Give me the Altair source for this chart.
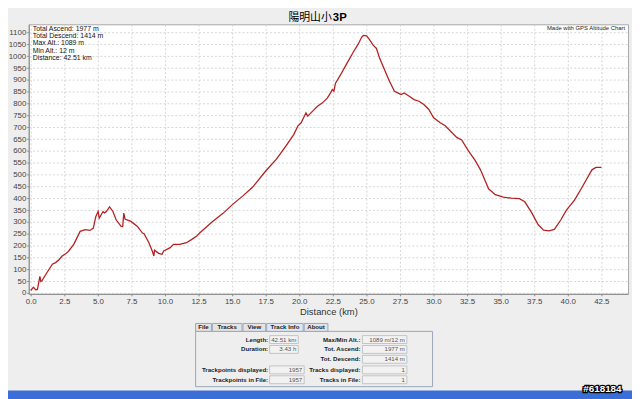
import altair as alt
import pandas as pd

# ---- data ----
dist_km = [0.0, 0.2, 0.39, 0.5, 0.68, 0.75, 0.83, 1.2, 1.61, 1.85, 2.1, 2.34, 2.6, 2.83, 3.2, 3.68,
           4.05, 4.41, 4.66, 4.85, 5.02, 5.1, 5.39, 5.5, 5.63, 5.87, 6.12, 6.36, 6.73, 6.85, 6.93,
           7.02, 7.46, 7.95, 8.32, 8.44, 8.8, 9.05, 9.17, 9.22, 9.53, 9.78, 9.9, 10.39, 10.63, 11.1,
           11.6, 11.97, 12.34, 12.58, 13.5, 14.3, 15.0, 15.8, 16.5, 17.5, 18.3, 19.0, 19.6, 19.9,
           20.14, 20.5, 20.63, 21.0, 21.36, 21.73, 22.1, 22.33, 22.46, 22.58, 22.7, 23.07, 23.55,
           24.04, 24.41, 24.65, 24.78, 25.02, 25.26, 25.5, 25.75, 25.99, 26.36, 26.72, 27.09, 27.34,
           27.58, 27.82, 28.19, 28.55, 28.92, 29.28, 29.65, 30.01, 30.5, 30.87, 31.36, 31.73, 32.1,
           32.6, 33.1, 33.5, 33.8, 34.1, 34.6, 35.2, 35.8, 36.4, 36.8, 37.3, 37.8, 38.2, 38.6, 39.0,
           39.5, 39.9, 40.5, 41.0, 41.4, 41.8, 42.1, 42.51]
elev_m = [10, 24, 12, 15, 70, 48, 51, 85, 121, 128, 140, 156, 165, 177, 205, 260,
          267, 264, 274, 323, 344, 316, 344, 338, 344, 364, 344, 309, 281, 280, 337,
          312, 302, 281, 253, 250, 212, 177, 156, 180, 167, 163, 177, 191, 205, 205,
          212, 225, 239, 253, 300, 335, 372, 410, 445, 515, 565, 620, 670, 706,
          719, 761, 747, 768, 789, 803, 824, 845, 859, 852, 886, 921, 970,
          1019, 1053, 1081, 1088, 1086, 1068, 1047, 1033, 991, 942, 894, 852, 845,
          838, 845, 831, 817, 810, 796, 775, 740, 719, 706, 678, 657, 646,
          600, 560, 520, 480, 440, 415, 405, 400, 398, 385, 340, 288, 265, 262, 268,
          310, 350, 392, 440, 480, 520, 530, 530]

x_ticks = [i * 2.5 for i in range(18)]
y_ticks = list(range(0, 1101, 50))

title_main = "陽明山小"
title_bold = "3P"
stats_lines = ["Total Ascend: 1977 m", "Total Descend: 1414 m", "Max Alt.: 1089 m",
               "Min Alt.: 12 m", "Distance: 42.51 km"]
credit = "Made with GPS Altitude Chart"

tab_names = ["File", "Tracks", "View", "Track Info", "About"]
left_labels = ["Length:", "Duration:", "", "Trackpoints displayed:", "Trackpoints in File:"]
left_values = ["42.51 km", "3.43 h", "", "1957", "1957"]
right_labels = ["Max/Min Alt.:", "Tot. Ascend:", "Tot. Descend:", "Tracks displayed:", "Tracks in File:"]
right_values = ["1089 m/12 m", "1977 m", "1414 m", "1", "1"]
watermark = "#618184"

# ---- layout (plot-area pixel coords) ----
W, H = 607, 273
FONT = "Liberation Sans"

df = pd.DataFrame({"km": dist_km, "m": elev_m})

line = alt.Chart(df).mark_line(color="#b22222", strokeWidth=1.3, clip=True).encode(
    x=alt.X("km:Q", scale=alt.Scale(domain=[-0.15, 44.49], nice=False, zero=False),
            axis=alt.Axis(values=x_ticks, format=".1f", title="Distance (km)",
                          labelFlush=False)),
    y=alt.Y("m:Q", scale=alt.Scale(domain=[-4, 1135], nice=False, zero=False),
            axis=alt.Axis(values=y_ticks, format="d", title=None)),
)

one = pd.DataFrame({"a": [0]})


def txt(s, x, y, size=8, align="left", weight="normal", color="#000000", font=FONT,
        baseline="middle", **kw):
    return alt.Chart(pd.DataFrame({"t": [s]})).mark_text(
        align=align, baseline=baseline, fontSize=size, fontWeight=weight, color=color,
        font=font, **kw).encode(x=alt.value(x), y=alt.value(y), text="t:N")


def box(x1, x2, y1, y2, fill, stroke=None, sw=1):
    kw = dict(fill=fill)
    if stroke:
        kw.update(stroke=stroke, strokeWidth=sw)
    return alt.Chart(one).mark_rect(**kw).encode(
        x=alt.value(x1), x2=alt.value(x2), y=alt.value(y1), y2=alt.value(y2))


layers = [line]

# title
layers.append(txt(title_main, 307, -6.5, size=11, align="right", baseline="middle",
                  font="Noto Sans CJK TC"))
layers.append(txt(title_bold, 308, -6.5, size=11.5, align="left", baseline="middle",
                  weight="bold"))

# stats
for i, s in enumerate(stats_lines):
    layers.append(txt(s, 4, 5 + 7.2 * i, size=7, color="#111111"))
layers.append(txt(credit, 604, 4, size=6, align="right", color="#222222"))

# panel
layers.append(box(169, 409, 311, 367, "#eeeeee", "#9aa6b8"))
tab_x = [(169, 185), (186, 216), (217, 240), (241, 278), (279, 303)]
for name, (a, b) in zip(tab_names, tab_x):
    sel = name == "Track Info"
    layers.append(box(a, b, 303, 311, "#dce8f6" if sel else "#e4e4e4", "#9aa6b8"))
    layers.append(txt(name, (a + b) / 2, 307, size=6.2, align="center", weight="bold",
                      color="#222222"))

row_y = [319.3, 329.3, 339.3, 350, 360]
left_box = [(244, 273), (244, 273), None, (244, 279), (244, 279)]
for i in range(5):
    y = row_y[i]
    if left_labels[i]:
        layers.append(txt(left_labels[i], 242.5, y, size=6.2, align="right", weight="bold",
                          color="#222222"))
        a, b = left_box[i]
        layers.append(box(a, b, y - 4, y + 4, "#f2f2f2", "#c4c4c4"))
        layers.append(txt(left_values[i], b - 2, y, size=6.2, align="right", color="#555555"))
    layers.append(txt(right_labels[i], 336, y, size=6.2, align="right", weight="bold",
                      color="#222222"))
    layers.append(box(338, 383, y - 4, y + 4, "#f2f2f2", "#c4c4c4"))
    layers.append(txt(right_values[i], 381, y, size=6.2, align="right", color="#555555"))

# taskbar + watermark
layers.append(box(-21, 611, 371, 380, "#3a6fd8"))
layers.append(txt(watermark, 581, 369.5, size=10, align="center", weight="bold",
                  color="#000000", stroke="#000000", strokeWidth=2.5))
layers.append(txt(watermark, 581, 369.5, size=10, align="center", weight="bold",
                  color="#ffffff"))

chart = alt.layer(*layers).properties(
    width=W, height=H,
    autosize=alt.AutoSizeParams(type="none"),
    padding={"left": 21, "top": 14, "right": 4, "bottom": 104},
    background="#eeeeee",
).configure_view(fill="white", stroke="#a8a8a8", strokeWidth=1).configure_axis(
    labelFont=FONT, labelFontSize=8, labelColor="#444444", tickColor="#888888",
    tickSize=2, labelPadding=1, domainColor="#8a8a8a", gridColor="#d6d6d6",
    gridDash=[2, 2], titleFont=FONT, titleFontSize=9.5, titleFontWeight="normal",
    titleColor="#333333",
).configure_axisX(labelPadding=2, titlePadding=1)

chart.save("out.html", embed_options={"renderer": "svg", "actions": False})
